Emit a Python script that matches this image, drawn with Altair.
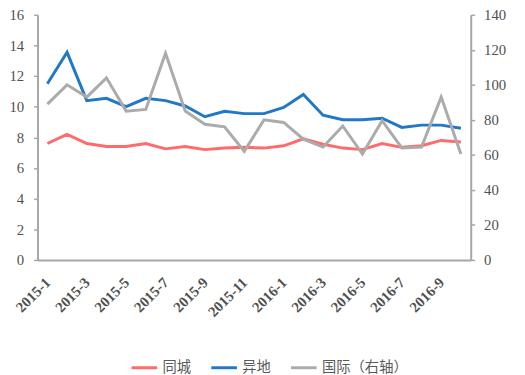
import altair as alt
import pandas as pd

months = ["2015-1","2015-2","2015-3","2015-4","2015-5","2015-6","2015-7","2015-8","2015-9","2015-10","2015-11","2015-12",
          "2016-1","2016-2","2016-3","2016-4","2016-5","2016-6","2016-7","2016-8","2016-9","2016-10"]
tongcheng = [7.6, 8.2, 7.6, 7.4, 7.4, 7.6, 7.25, 7.4, 7.2, 7.3, 7.35, 7.3,
             7.45, 7.9, 7.55, 7.3, 7.2, 7.6, 7.35, 7.45, 7.8, 7.7]
yidi = [11.5, 13.55, 10.4, 10.55, 10.0, 10.55, 10.4, 10.05, 9.35, 9.7, 9.55, 9.55,
        9.95, 10.8, 9.45, 9.15, 9.15, 9.25, 8.65, 8.8, 8.8, 8.6]
guoji = [89, 100, 93, 104, 85, 86, 118, 85, 77.5, 76, 62, 80,
         78.5, 69, 64.5, 76.5, 60.5, 79.5, 64, 64.5, 93, 60.5]

names = ["同城", "异地", "国际（右轴）"]
colors = ["#FF6B6B", "#2178C4", "#ABABAB"]

left_df = pd.DataFrame({
    "month": months * 2,
    "value": tongcheng + yidi,
    "series": [names[0]] * len(months) + [names[1]] * len(months),
})
right_df = pd.DataFrame({"month": months, "value": guoji, "series": names[2]})

label_font = "Liberation Serif"
axis_color = "#A6A6A6"

x_enc = alt.X("month:O", sort=months, title=None,
              scale=alt.Scale(padding=0.5),
              axis=alt.Axis(values=months[::2], labelAngle=-45, labelAlign="right",
                            labelBaseline="middle", labelFont=label_font, labelFontWeight="bold",
                            labelFontSize=15, labelColor="#505050", ticks=False,
                            domainColor=axis_color, domainWidth=2, labelPadding=20))

color_enc = alt.Color("series:N", scale=alt.Scale(domain=names, range=colors), title=None,
                      legend=alt.Legend(orient="none", legendX=94, legendY=344, direction="horizontal",
                                        symbolType="stroke", symbolSize=676, symbolStrokeWidth=3,
                                        labelFont="Noto Sans CJK SC", labelFontSize=14.5,
                                        labelColor="#595959", columnPadding=14, labelOffset=4))

left = alt.Chart(left_df).mark_line(strokeWidth=3).encode(
    x=x_enc,
    y=alt.Y("value:Q", title=None, scale=alt.Scale(domain=[0, 16]),
            axis=alt.Axis(values=list(range(0, 17, 2)), grid=False, labelFont=label_font,
                          labelFontSize=15, labelColor="#505050", domainColor=axis_color,
                          domainWidth=2, tickColor=axis_color, tickSize=4, tickWidth=1.5,
                          labelPadding=10)),
    color=color_enc,
    detail="series:N",
)

right = alt.Chart(right_df).mark_line(strokeWidth=3).encode(
    x=x_enc,
    y=alt.Y("value:Q", title=None, scale=alt.Scale(domain=[0, 140]),
            axis=alt.Axis(orient="right", values=list(range(0, 141, 20)), grid=False,
                          labelFont=label_font, labelFontSize=15, labelColor="#505050",
                          domainColor=axis_color, domainWidth=2, tickColor=axis_color,
                          tickSize=4, tickWidth=1.5, labelPadding=9)),
    color=color_enc,
)

chart = alt.layer(left, right).resolve_scale(y="independent").properties(
    width=440, height=249,
    autosize=alt.AutoSizeParams(type="none"),
    padding={"left": 30, "top": 4, "right": 47, "bottom": 116},
).configure_view(stroke=None)

chart.save("out.html", embed_options={"renderer": "svg", "actions": False})
